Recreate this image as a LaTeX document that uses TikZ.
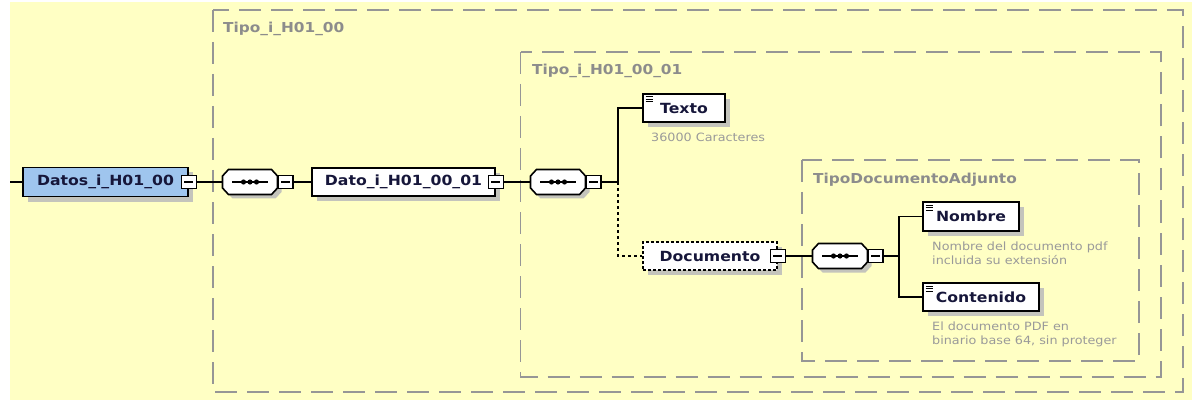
\documentclass[tikz,border=0pt]{standalone}
\usepackage{fontspec}
\setmainfont{DejaVu Sans}[FakeStretch=1.12]
\usepackage{xcolor}
\usetikzlibrary{shadows}
\definecolor{bgyellow}{HTML}{FFFFC4}
\definecolor{datosblue}{HTML}{9FC5EE}
\definecolor{shadowgray}{HTML}{C4C4BC}
\definecolor{groupgray}{HTML}{969696}
\definecolor{labelgray}{HTML}{8C8C8C}
\definecolor{notegray}{HTML}{9A9A9A}
\definecolor{elemtext}{HTML}{16163A}

\begin{document}
\begin{tikzpicture}[x=1pt, y=-1pt,
  elem/.style={draw, line width=1.7pt, fill=white, inner sep=0pt, minimum height=28pt,
    text=elemtext, font=\fontsize{14}{16}\selectfont\bfseries,
    drop shadow={shadow xshift=5pt, shadow yshift=-5pt, fill=shadowgray, opacity=1}},
  optelem/.style={elem, dash pattern=on 3pt off 2pt},
  textelem/.style={elem, path picture={
    \foreach \dy in {3,5.5,8}
      \draw[line width=1pt] ([shift={(2.5pt,-\dy pt)}]path picture bounding box.north west) -- ++(7.5,0);}},
  minusbox/.style={draw, line width=1.3pt, fill=white, minimum width=15pt, minimum height=12.5pt, inner sep=0pt,
    path picture={\draw[line width=1.2pt] ([xshift=3pt]path picture bounding box.west) -- ([xshift=-3pt]path picture bounding box.east);}},
  group/.style={draw=groupgray, line width=1.4pt, dash pattern=on 22pt off 10pt},
  grouplabel/.style={anchor=base west, inner sep=0pt, text=labelgray, font=\fontsize{13.7}{16}\selectfont\bfseries},
  note/.style={anchor=north west, align=left, inner sep=0pt, text=notegray, font=\fontsize{11.4}{14.5}\selectfont},
  link/.style={line width=1.4pt},
  optlink/.style={link, dash pattern=on 3pt off 3pt},
  seqgroup/.pic={
    \draw[line width=1.6pt, fill=white, drop shadow={shadow xshift=4pt, shadow yshift=-4pt, fill=shadowgray, opacity=1}]
      (-27.5,-6) -- (-21.5,-12.5) -- (21.5,-12.5) -- (27.5,-6) -- (27.5,6) -- (21.5,12.5) -- (-21.5,12.5) -- (-27.5,6) -- cycle;
    \node[inner sep=0pt, minimum width=55pt, minimum height=25pt] (-c) at (0,0) {};
    \draw[line width=1.3pt] (-18,0) -- (18,0);
    \foreach \dx in {-6.5,0,6.5} \fill (\dx,0) circle (2.6pt);
    \node[minusbox] (-m) at (35.5,0) {};
  }]
  % Canvas
  \useasboundingbox (0,0) rectangle (1192,401);
  \fill[white] (0,0) rectangle (1192,401);
  \fill[bgyellow] (10,2) rectangle (1192,400);
  % Type groups
  \draw[group] (213,10) rectangle (1183,392);
  \node[grouplabel] (tipoA) at (223,33) {Tipo\_i\_H01\_00};
  \draw[group] (520.5,52) rectangle (1161,377);
  \node[grouplabel] (tipoB) at (532,75) {Tipo\_i\_H01\_00\_01};
  \draw[group] (802,160) rectangle (1139,361);
  \node[grouplabel] (tipoC) at (813,183) {TipoDocumentoAdjunto};
  % Elements
  \coordinate (start) at (10,182);
  \node[elem, fill=datosblue, minimum width=165pt, minimum height=29pt] (datos) at (105.5,182) {Datos\_i\_H01\_00};
  \node[minusbox] (datos-m) at (datos.east) {};
  \pic (seqA) at (250,182) {seqgroup};
  \node[elem, minimum width=183pt] (dato) at (403.5,182) {Dato\_i\_H01\_00\_01};
  \node[minusbox] (dato-m) at (dato.east) {};
  \pic (seqB) at (558,182) {seqgroup};
  \coordinate (busA) at (618,182);
  \node[textelem, minimum width=82pt] (texto) at (684,108) {Texto};
  \node[note] (textoNote) at (651,132.5) {36000 Caracteres};
  \node[optelem, minimum width=134pt] (documento) at (710,256) {Documento};
  \node[minusbox] (documento-m) at (documento.east) {};
  \pic (seqC) at (840,256) {seqgroup};
  \coordinate (busB) at (899,256);
  \node[textelem, minimum width=96pt, minimum height=29pt] (nombre) at (971,216.5) {Nombre};
  \node[note] (nombreNote) at (932,241.3) {Nombre del documento pdf\\incluida su extensión};
  \node[textelem, minimum width=116pt] (contenido) at (981,297) {Contenido};
  \node[note] (contenidoNote) at (932,321.3) {El documento PDF en\\binario base 64, sin proteger};
  % Connectors
  \draw[link] (start) -- (datos);
  \draw[link] (datos-m) -- (seqA-c);
  \draw[link] (seqA-m) -- (dato);
  \draw[link] (dato-m) -- (seqB-c);
  \draw[link] (seqB-m) -- (busA) |- (texto);
  \draw[optlink] (busA) |- (documento);
  \draw[link] (documento-m) -- (seqC-c);
  \draw[link] (seqC-m) -- (busB) |- (nombre);
  \draw[link] (busB) |- (contenido);
\end{tikzpicture}
\end{document}
